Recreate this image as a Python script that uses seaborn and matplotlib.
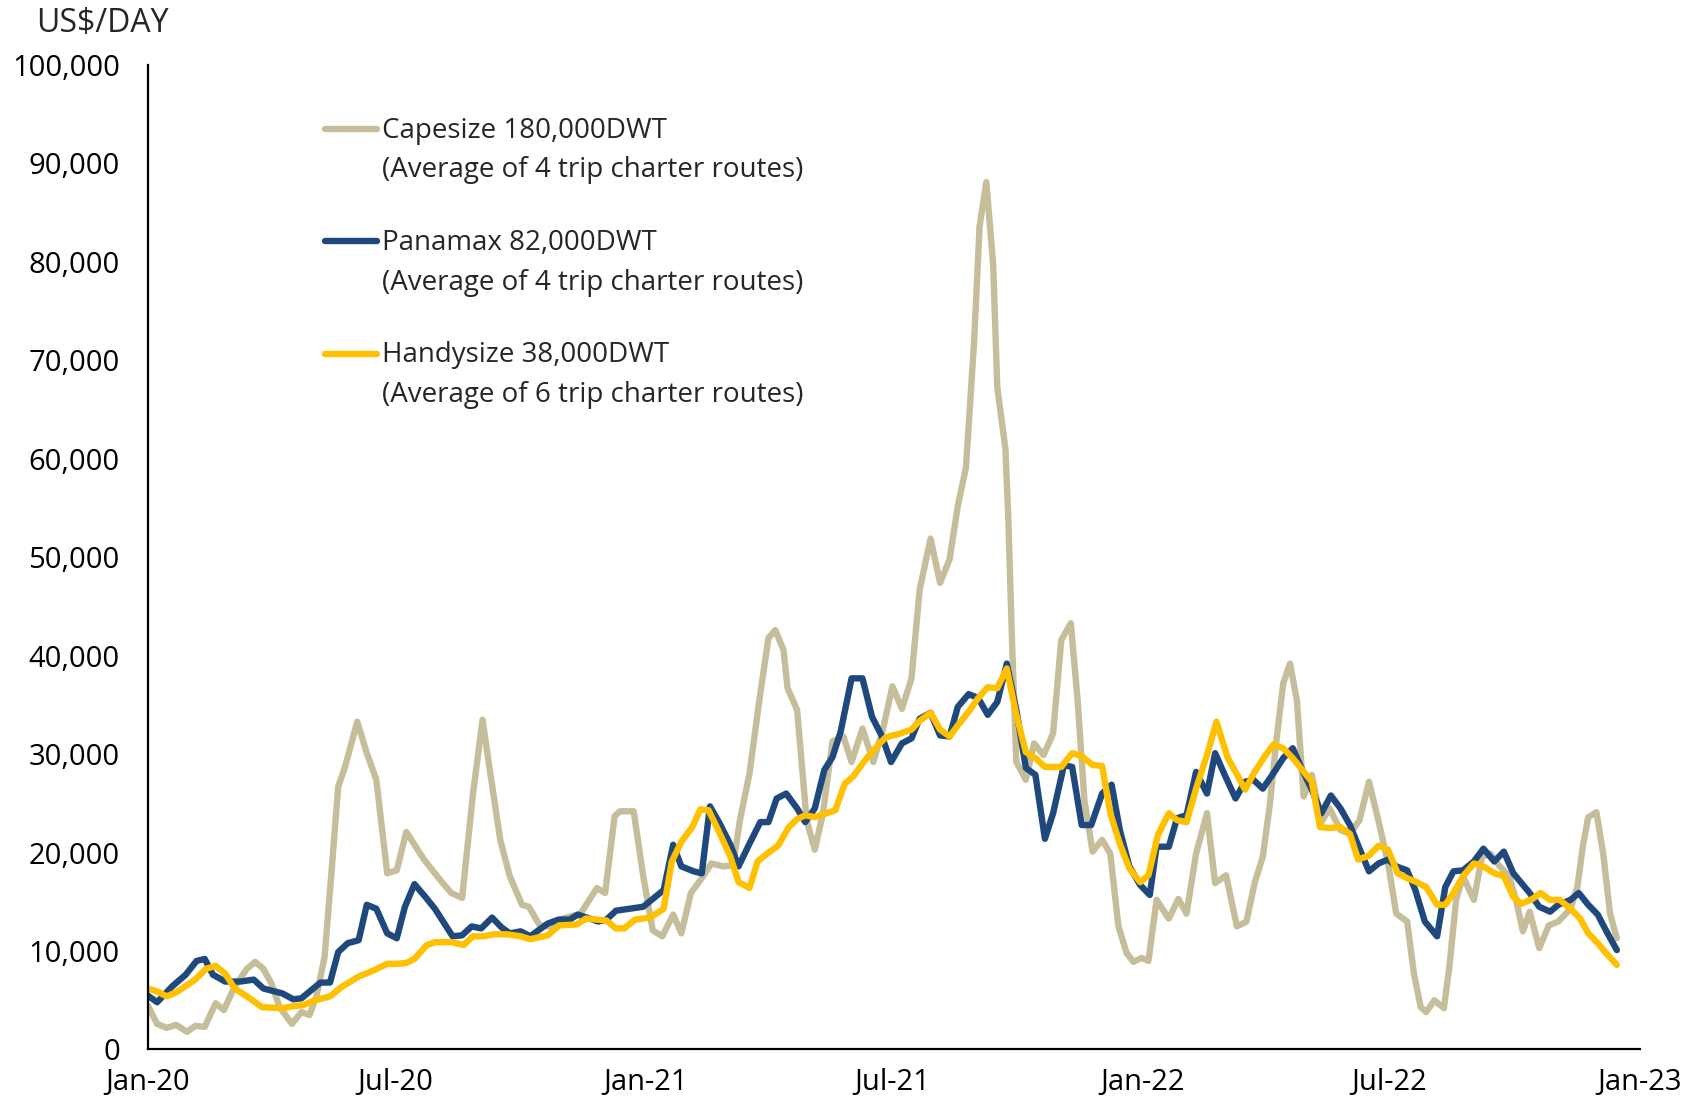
import numpy as np
import pandas as pd
import seaborn as sns
import matplotlib
from matplotlib import pyplot as plt
import matplotlib.dates as mdates
from matplotlib.ticker import FuncFormatter, MultipleLocator
from matplotlib.lines import Line2D

# Weekly time-charter rates (days counted from 1 Jan 2020, US$/day)
cape_day = [0, 7, 14, 21, 29, 35, 42, 50, 56, 64, 73, 79, 85, 91, 97, 106, 113, 119, 124, 130,
            135, 140, 145, 154, 161, 168, 176, 183, 190, 203, 215, 223, 231, 239, 246, 251, 259,
            266, 275, 280, 288, 296, 305, 318, 330, 336, 343, 347, 357, 364, 371, 378, 386, 392,
            399, 407, 414, 423, 430, 435, 442, 450, 456, 461, 467, 470, 477, 484, 490, 496, 503,
            511, 517, 525, 533, 540, 547, 554, 561, 567, 575, 582, 589, 595, 601, 607, 611, 616,
            621, 624, 630, 632, 635, 638, 645, 651, 658, 665, 671, 678, 683, 688, 694, 701, 707,
            713, 719, 724, 730, 735, 741, 750, 757, 763, 770, 778, 784, 792, 800, 807, 813, 819,
            824, 829, 834, 839, 844, 849, 855, 862, 868, 876, 883, 890, 897, 905, 911, 917, 925,
            930, 935, 939, 945, 952, 956, 961, 966, 974, 980, 986, 993, 1000, 1005, 1010, 1015,
            1022, 1029, 1036, 1045, 1050, 1054, 1058, 1064, 1069, 1074, 1079]
cape_val = [4500, 2600, 2200, 2500, 1800, 2400, 2300, 4700, 4000, 6400, 8200, 8900, 8200, 6700,
            4300, 2600, 3800, 3500, 5400, 9400, 17900, 26700, 28700, 33300, 30100, 27400, 17900,
            18200, 22100, 19300, 17200, 15900, 15400, 26000, 33500, 28700, 21300, 17600, 14700,
            14500, 12600, 12500, 13300, 13800, 16400, 15900, 23700, 24200, 24200, 17600, 12100,
            11500, 13700, 11800, 15900, 17400, 18900, 18600, 18700, 23300, 28000, 36200, 41800,
            42600, 40600, 36700, 34500, 23300, 20300, 24000, 31300, 31800, 29200, 32600, 29200,
            32500, 36900, 34600, 37700, 46700, 51900, 47400, 49800, 55200, 59100, 71900, 83600,
            88100, 79700, 67300, 61000, 54400, 40800, 29200, 27400, 31100, 29900, 32100, 41600,
            43300, 35500, 25300, 20100, 21300, 19900, 12500, 9800, 8900, 9300, 9000, 15200, 13300,
            15300, 13800, 19900, 24000, 16900, 17700, 12500, 13000, 16900, 19600, 24700, 31400,
            37200, 39200, 35500, 25700, 27900, 23100, 24500, 22300, 21900, 23300, 27200, 22600,
            18900, 13800, 13000, 7700, 4300, 3800, 5000, 4200, 8400, 15200, 17600, 15200, 19600,
            19900, 18600, 17600, 15200, 12000, 14000, 10300, 12600, 13000, 14300, 16500, 20600,
            23600, 24100, 19900, 13800, 11300]

pana_day = [0, 7, 18, 28, 36, 42, 48, 57, 68, 78, 85, 99, 107, 113, 127, 134, 140, 147, 155, 161,
            168, 176, 183, 189, 196, 204, 211, 217, 224, 231, 238, 245, 253, 260, 266, 274, 281,
            294, 302, 310, 316, 331, 337, 344, 364, 371, 379, 386, 392, 401, 407, 413, 420, 428,
            434, 442, 450, 456, 462, 469, 477, 483, 490, 497, 503, 509, 517, 525, 532, 539, 546,
            554, 561, 567, 575, 582, 589, 595, 603, 610, 617, 624, 631, 638, 645, 652, 659, 665,
            673, 679, 686, 693, 701, 708, 714, 721, 729, 736, 741, 750, 756, 763, 770, 778, 784,
            791, 799, 806, 812, 819, 827, 834, 841, 848, 855, 862, 869, 876, 883, 890, 897, 904,
            911, 917, 925, 931, 938, 947, 953, 959, 966, 974, 981, 989, 996, 1003, 1009, 1015,
            1022, 1030, 1036, 1045, 1051, 1058, 1065, 1071, 1079]
pana_val = [5500, 4800, 6400, 7600, 9000, 9200, 7600, 6900, 6900, 7100, 6200, 5700, 5100, 5200,
            6800, 6800, 9900, 10800, 11100, 14700, 14300, 11800, 11300, 14500, 16800, 15500,
            14300, 13000, 11500, 11600, 12500, 12300, 13400, 12400, 11800, 12000, 11500, 12800,
            13200, 13200, 13700, 13000, 13200, 14100, 14500, 15300, 16200, 20800, 18600, 18100,
            17900, 24700, 23000, 20800, 18600, 20900, 23100, 23100, 25500, 26000, 24500, 23100,
            24500, 28400, 29700, 32300, 37700, 37700, 33800, 31900, 29200, 31100, 31600, 33600,
            34200, 31900, 31800, 34800, 36100, 35700, 34000, 35300, 39200, 34500, 28600, 27900,
            21400, 24000, 28900, 28700, 22800, 22800, 26000, 26900, 22300, 18600, 16700, 15700,
            20600, 20600, 23500, 23800, 28200, 26000, 30100, 27900, 25500, 27200, 27400, 26500,
            28100, 29600, 30600, 28400, 26400, 24000, 25800, 24500, 22800, 20400, 18100, 18900,
            19300, 18600, 18200, 16200, 13000, 11500, 16500, 18100, 18200, 19100, 20400, 19100,
            20100, 17900, 16900, 15900, 14500, 14000, 14700, 15200, 15900, 14700, 13700, 12100,
            10100]

handy_day = [0, 7, 14, 21, 35, 43, 50, 57, 64, 75, 84, 99, 107, 114, 123, 134, 143, 155, 167,
             176, 184, 190, 196, 205, 211, 224, 232, 239, 247, 254, 264, 274, 281, 294, 302, 315,
             322, 337, 344, 350, 358, 369, 379, 385, 392, 400, 406, 412, 419, 428, 434, 442, 448,
             455, 463, 471, 477, 483, 490, 505, 512, 518, 527, 533, 542, 547, 553, 561, 567, 575,
             582, 589, 596, 604, 610, 617, 624, 631, 638, 645, 652, 659, 671, 679, 686, 694, 701,
             707, 714, 721, 729, 735, 742, 750, 756, 763, 770, 778, 785, 793, 799, 806, 813, 821,
             827, 834, 841, 848, 855, 861, 868, 876, 883, 889, 897, 904, 911, 918, 925, 932, 939,
             947, 953, 959, 966, 974, 981, 989, 996, 1003, 1009, 1017, 1023, 1030, 1037, 1045,
             1052, 1058, 1065, 1071, 1079]
handy_val = [6200, 5900, 5400, 5800, 7100, 8200, 8500, 7700, 6200, 5200, 4300, 4200, 4400, 4500,
             5000, 5400, 6400, 7400, 8100, 8700, 8700, 8800, 9200, 10600, 10900, 10900, 10600,
             11500, 11500, 11700, 11700, 11500, 11200, 11600, 12600, 12700, 13300, 13100, 12300,
             12300, 13200, 13400, 14300, 19100, 21100, 22600, 24400, 24300, 22300, 19600, 17000,
             16400, 19100, 19900, 20700, 22600, 23400, 23800, 23600, 24300, 27000, 27700, 29400,
             30400, 31700, 31900, 32100, 32500, 33400, 34200, 32500, 31800, 33100, 34500, 35700,
             36800, 36700, 38700, 34000, 30200, 29600, 28700, 28700, 30100, 29800, 28900, 28800,
             24000, 20900, 18400, 17000, 17700, 21800, 24000, 23300, 23100, 26500, 29900, 33300,
             29700, 28200, 26400, 28200, 29900, 31000, 30600, 29600, 28400, 27200, 22600, 22500,
             22600, 21900, 19300, 19700, 20700, 20300, 17900, 17400, 17000, 16500, 14700, 14700,
             15900, 17600, 18900, 18600, 17900, 17600, 15500, 14800, 15300, 15900, 15200, 15200,
             14300, 13300, 11800, 10800, 9800, 8600]

series_names = ['Capesize 180,000DWT', 'Panamax 82,000DWT', 'Handysize 38,000DWT']
series_notes = ['(Average of 4 trip charter routes)', '(Average of 4 trip charter routes)',
                '(Average of 6 trip charter routes)']
colours = ['#C6BE9A', '#1F497D', '#FFC000']

start = pd.Timestamp('2020-01-01')
series = [(cape_day, cape_val), (pana_day, pana_val), (handy_day, handy_val)]

sns.set_style('white')
plt.rcParams['font.family'] = ['Open Sans', 'DejaVu Sans']

fig = plt.figure(figsize=(17, 10.97), dpi=100)
ax = fig.add_axes([0.0868, 0.0433, 0.8779, 0.8974])

for (days, vals), name, colour in zip(series, series_names, colours):
    df = pd.DataFrame({'date': start + pd.to_timedelta(days, unit='D'), 'rate': vals})
    sns.lineplot(data=df, x='date', y='rate', ax=ax, color=colour, linewidth=4.6,
                 label=name, solid_joinstyle='round', solid_capstyle='round')

# axes styling
ax.set_xlim(pd.Timestamp('2020-01-01'), pd.Timestamp('2023-01-01'))
ax.set_ylim(0, 100000)
ax.yaxis.set_major_locator(MultipleLocator(10000))
ax.yaxis.set_major_formatter(FuncFormatter(lambda v, p: f'{v:,.0f}'))
ax.xaxis.set_major_locator(mdates.MonthLocator(bymonth=[1, 7]))
ax.xaxis.set_major_formatter(mdates.DateFormatter('%b-%y'))
ax.set_xlabel('')
ax.set_ylabel('')
for side in ['top', 'right']:
    ax.spines[side].set_visible(False)
for side in ['left', 'bottom']:
    ax.spines[side].set_color('black')
    ax.spines[side].set_linewidth(1.6)
ax.tick_params(axis='both', direction='in', length=8, width=1.6, labelsize=21,
               colors='black')
ax.tick_params(axis='y', pad=20)
ax.tick_params(axis='x', pad=13)
ax.grid(False)

# legend: name on the first row, route note underneath, short blank row between groups
lines = ax.get_lines()
blank = Line2D([], [], color='none')
handles, labels, gaps = [], [], []
for i, (ln, name, note) in enumerate(zip(lines, series_names, series_notes)):
    handles += [ln, blank]
    labels += [name, note]
    if i < len(lines) - 1:
        handles.append(blank)
        labels.append(' ')
        gaps.append(len(labels) - 1)
leg = ax.legend(handles, labels, loc='upper left', bbox_to_anchor=(0.119, 0.9475),
                frameon=False, fontsize=20, handlelength=1.85, handleheight=0.45,
                handletextpad=0.2, labelspacing=0.42, borderpad=0, borderaxespad=0)
for g in gaps:
    leg.get_texts()[g].set_fontsize(11)

fig.text(0.021, 0.979, 'US$/DAY', fontsize=23, ha='left', va='center')

fig.savefig('out.png', dpi=100)
